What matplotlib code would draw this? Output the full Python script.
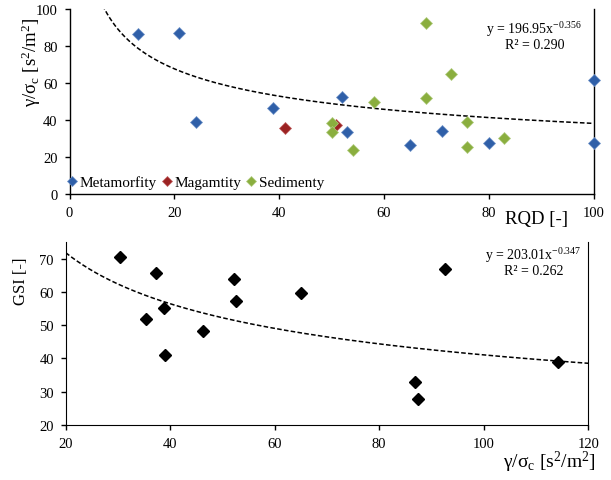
import numpy as np
import matplotlib
matplotlib.use("Agg")
import matplotlib.pyplot as plt

plt.rcParams['font.family'] = ['Liberation Serif', 'DejaVu Serif']
plt.rcParams['mathtext.fontset'] = 'custom'
plt.rcParams['mathtext.rm'] = 'Liberation Serif'
plt.rcParams['mathtext.it'] = 'Liberation Serif:italic'

# Top panel data: RQD vs gamma/sigma_c
meta_rqd = [13.0, 20.9, 24.1, 38.9, 52.0, 53.0, 65.0, 71.1, 80.0, 100, 100]
meta_g = [86.6, 87.0, 39.2, 46.4, 52.7, 33.4, 26.5, 34.1, 27.8, 61.7, 27.8]
mag_rqd = [41.1, 50.9]
mag_g = [35.6, 37.4]
sed_rqd = [68.0, 72.9, 68.0, 58.1, 50.1, 50.1, 54.1, 75.9, 75.9, 83.0]
sed_g = [92.4, 64.8, 52.2, 50.0, 38.3, 33.4, 24.0, 39.2, 25.5, 30.5]
top_a, top_b = 196.95, -0.356

# Bottom panel data: gamma/sigma_c vs GSI
g_bot = [30.4, 37.2, 35.3, 38.9, 39.0, 46.2, 52.3, 52.5, 65.0, 86.8, 87.4, 92.6, 114.3]
gsi = [70.4, 65.7, 52.0, 55.2, 41.0, 48.3, 63.8, 57.4, 59.7, 32.8, 27.9, 66.8, 38.8]
bot_a, bot_b = 203.01, -0.347

fig = plt.figure(figsize=(6.11, 4.81), dpi=100)
ax1 = fig.add_axes([69.5 / 611, 1 - 195 / 481, 524 / 611, 184.7 / 481])
ax2 = fig.add_axes([65.7 / 611, 1 - 426 / 481, 522.5 / 611, 183 / 481])

blue, red, green = '#2F5FA8', '#9B2222', '#8AAE3E'
ms = 6.5
ax1.plot(meta_rqd, meta_g, 'D', color=blue, mec='#6F93C8', mew=0.5, ms=ms, label='Metamorfity', clip_on=False, zorder=3)
ax1.plot(mag_rqd, mag_g, 'D', color=red, mec='#C06060', mew=0.5, ms=ms, label='Magamtity', clip_on=False, zorder=3)
ax1.plot(sed_rqd, sed_g, 'D', color=green, mec='#B0CC80', mew=0.5, ms=ms, label='Sedimenty', clip_on=False, zorder=3)
xt = np.linspace(1, 100, 400)
ax1.plot(xt, top_a * xt ** top_b, '--', color='black', lw=1.1, dashes=(3, 1.5))
ax1.set_xlim(0, 100)
ax1.set_ylim(0, 100)
ax1.set_xticks([0, 20, 40, 60, 80, 100])
ax1.set_yticks([0, 20, 40, 60, 80, 100])
ax1.spines['top'].set_visible(False)
for s in ['left', 'bottom', 'right']:
    ax1.spines[s].set_linewidth(1.0)
ax1.tick_params(labelsize=10.5, length=3.5, width=1.0, pad=5, direction='out')
ax1.text(0.951, -0.135, 'RQD [-]', transform=ax1.transAxes, ha='right', va='center', fontsize=13.5)
ax1.text(-0.072, 0.72, r'γ/σ$_{\mathrm{c}}$ [s$^2$/m$^2$]', transform=ax1.transAxes, rotation=90,
         ha='center', va='center', fontsize=13.5)
ax1.text(0.887, 0.897, r'y = 196.95x$^{-0.356}$', transform=ax1.transAxes, ha='center', va='center', fontsize=10)
ax1.text(0.887, 0.81, 'R² = 0.290', transform=ax1.transAxes, ha='center', va='center', fontsize=10)
ax1.legend(loc='center left', bbox_to_anchor=(-0.005, 0.065), ncol=3, frameon=False, fontsize=11,
           handlelength=0.7, handletextpad=0.15, columnspacing=0.3, markerscale=0.8, borderaxespad=0.0,
           borderpad=0.0)

ax2.plot(g_bot, gsi, 'D', color='black', ms=ms, clip_on=False, zorder=3)
xb = np.linspace(20, 120, 400)
ax2.plot(xb, bot_a * xb ** bot_b, '--', color='black', lw=1.1, dashes=(3, 1.5))
ax2.set_xlim(20, 120)
ax2.set_ylim(20, 75)
ax2.set_xticks([20, 40, 60, 80, 100, 120])
ax2.set_yticks([20, 30, 40, 50, 60, 70])
ax2.spines['top'].set_visible(False)
ax2.tick_params(labelsize=10.5, length=3.5, width=1.0, pad=5, direction='out')
ax2.text(1.015, -0.197, r'γ/σ$_{\mathrm{c}}$ [s$^2$/m$^2$]', transform=ax2.transAxes, ha='right', va='center', fontsize=14)
ax2.text(-0.086, 0.79, 'GSI [-]', transform=ax2.transAxes, rotation=90, ha='center', va='center', fontsize=12)
ax2.text(0.895, 0.934, r'y = 203.01x$^{-0.347}$', transform=ax2.transAxes, ha='center', va='center', fontsize=10)
ax2.text(0.895, 0.842, 'R² = 0.262', transform=ax2.transAxes, ha='center', va='center', fontsize=10)

fig.savefig('out.png', dpi=100)
